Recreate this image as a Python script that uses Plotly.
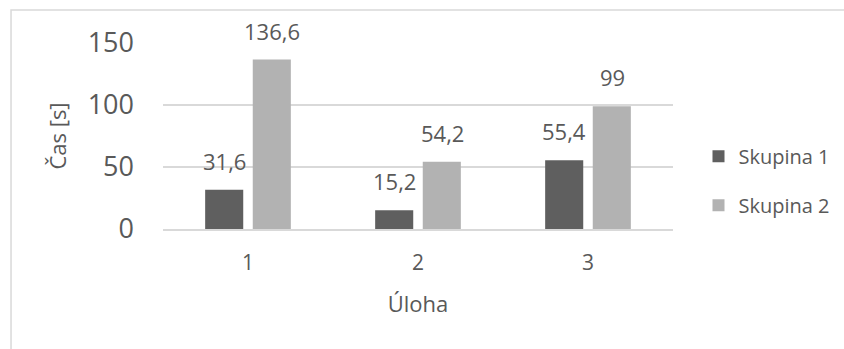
import plotly.graph_objects as go

categories = ["1", "2", "3"]
skupina1 = [31.6, 15.2, 55.4]
skupina2 = [136.6, 54.2, 99]
labels1 = ["31,6", "15,2", "55,4"]
labels2 = ["136,6", "54,2", "99"]
series_names = ["Skupina 1", "Skupina 2"]
ytick_vals = [0, 50, 100, 150]

TXT = "#595959"
FONT = "Open Sans"
DARK = "#5f5f5f"
LIGHT = "#b2b2b2"
GRID = "#d9d9d9"

fig = go.Figure()
fig.add_trace(go.Bar(x=categories, y=skupina1, name=series_names[0],
                     marker=dict(color=DARK, line=dict(width=0)),
                     legendgroup="a"))
fig.add_trace(go.Bar(x=categories, y=skupina2, name=series_names[1],
                     marker=dict(color=LIGHT, line=dict(width=0)),
                     legendgroup="b"))

annots = []
for vals, labs, shift in ((skupina1, labels1, -24), (skupina2, labels2, 24)):
    for i, (v, t) in enumerate(zip(vals, labs)):
        annots.append(dict(x=i, y=v, xref="x", yref="y", text=t, showarrow=False,
                           xshift=shift, yshift=12, yanchor="bottom",
                           font=dict(family=FONT, size=22, color=TXT)))

fig.update_layout(
    width=844, height=349,
    margin=dict(l=163, r=171, t=43, b=119.5, autoexpand=False),
    paper_bgcolor="white", plot_bgcolor="white",
    barmode="group", bargap=0.44, bargroupgap=0.2,
    font=dict(family=FONT, color=TXT),
    showlegend=True,
    legend=dict(x=1.05, xanchor="left", y=0.26, yanchor="middle",
                font=dict(family=FONT, size=20, color=TXT),
                traceorder="grouped", tracegroupgap=20,
                bgcolor="rgba(0,0,0,0)"),
    annotations=annots,
    shapes=[dict(type="rect", xref="paper", yref="paper",
                 x0=-0.298, x1=1.5, y0=-0.8, y1=1.177,
                 line=dict(color=GRID, width=1.5), fillcolor="rgba(0,0,0,0)",
                 layer="below")],
)
fig.update_xaxes(
    type="category", range=[-0.5, 2.5], showgrid=False, showline=True, linecolor=GRID, linewidth=1.5,
    ticks="", tickfont=dict(family=FONT, size=21, color=TXT), ticklabelstandoff=14,
    title=dict(text="Úloha", font=dict(family=FONT, size=22, color=TXT), standoff=22),
)
fig.update_yaxes(
    range=[0, 150], tickvals=ytick_vals, showgrid=True, gridcolor=GRID, gridwidth=1.5,
    zeroline=False, showline=False, ticks="",
    tickfont=dict(family=FONT, size=27, color=TXT), ticklabelstandoff=28,
    title=dict(text="Čas [s]", font=dict(family=FONT, size=22, color=TXT), standoff=14),
)

fig.write_html("out.html")
